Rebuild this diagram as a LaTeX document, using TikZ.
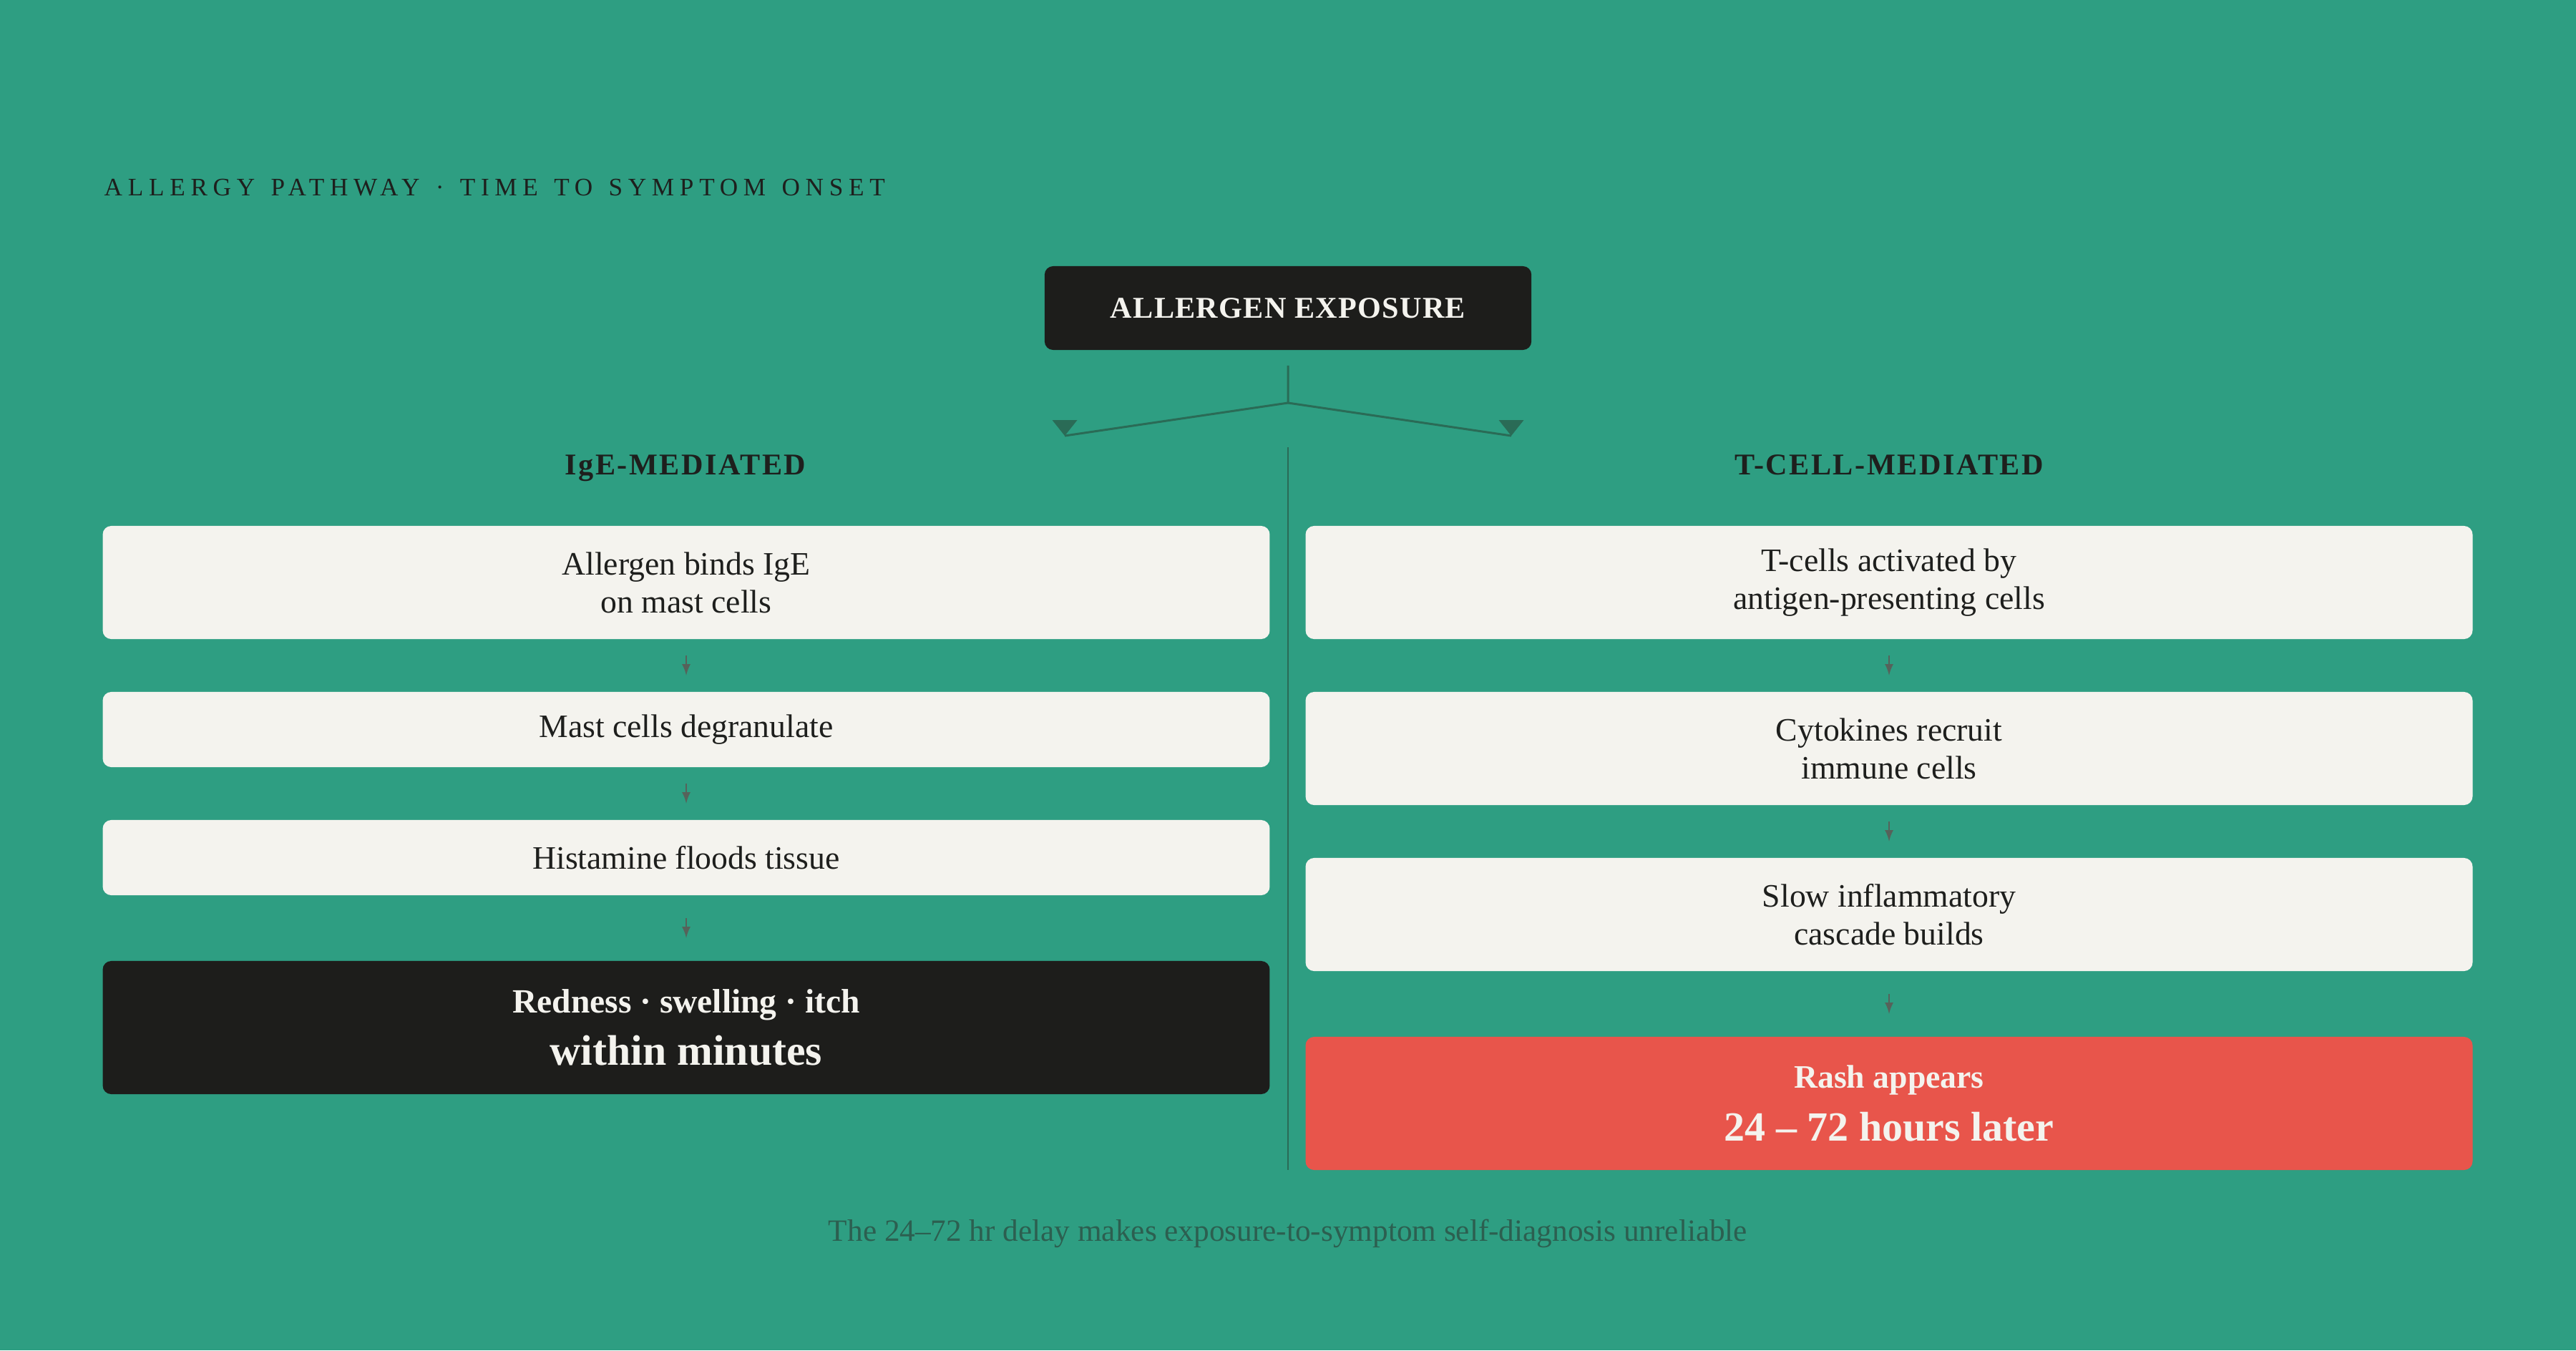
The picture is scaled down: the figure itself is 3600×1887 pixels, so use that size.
\documentclass[tikz,border=0pt]{standalone}
\usepackage{fontspec}
\setmainfont{Liberation Serif}
\newfontfamily\trackfont[LetterSpace=22,WordSpace=1.35]{Liberation Serif}
\newfontfamily\headfont[LetterSpace=6]{Liberation Serif}
\newfontfamily\boxfont[LetterSpace=3]{Liberation Serif}
\definecolor{bg}{HTML}{2E9E82}
\definecolor{paper}{HTML}{F4F3EE}
\definecolor{ink}{HTML}{1E1F1D}
\definecolor{coal}{HTML}{1D1D1B}
\definecolor{rash}{HTML}{E8554B}
\definecolor{pine}{HTML}{2A6B56}
\definecolor{ash}{HTML}{56625A}
\definecolor{note}{HTML}{2C5F50}
\begin{document}
\begin{tikzpicture}[x=0.01cm,y=-0.01cm]
            \tikzstyle{every node}=[inner sep=0pt]
            \tikzstyle{card}=[fill=paper,text=ink,rounded corners=3.4pt,minimum width=16.3cm,align=center,font=\fontsize{13}{15}\selectfont]
            \tikzstyle{bigcard}=[card,minimum height=1.86cm,text=paper,font=\bfseries]
            \tikzstyle{colhead}=[anchor=base,text=ink,font=\headfont\bfseries\fontsize{12}{14}\selectfont]
            \tikzstyle{branch}=[pine,line width=0.85pt]
            \tikzstyle{flow}=[ash,line width=0.55pt,-latex]
            \fill[bg] (0,0) rectangle (3600,1887);
            \useasboundingbox (0,0) rectangle (3600,1887);
            \draw (145,262) node[anchor=west,text=ink] (title) {\trackfont\fontsize{10}{12}\selectfont ALLERGY PATHWAY · TIME TO SYMPTOM ONSET};
            \draw (1800,430.5) node[fill=coal,text=paper,rounded corners=3.4pt,minimum width=6.8cm,minimum height=1.17cm,font=\boxfont\bfseries\fontsize{12}{14}\selectfont] (exp) {ALLERGEN EXPOSURE};
            % fork towards the two pathways
            \coordinate (fork) at (1800,563);
            \coordinate (tipl) at (1488,609);
            \coordinate (tipr) at (2112,609);
            \draw[branch] ([yshift=-0.21cm]exp.south) -- (fork) -- (tipl);
            \draw[branch] (fork) -- (tipr);
            \fill[pine] (tipl) -- ++(-17.5,-22) -- ++(35,0) -- cycle;
            \fill[pine] (tipr) -- ++(-17.5,-22) -- ++(35,0) -- cycle;
            \coordinate (divtop) at (1800,625);
            \coordinate (divbot) at (1800,1635);
            \draw[pine,line width=0.55pt] (divtop) -- (divbot);
            \draw (958,663) node[colhead] (ige) {IgE-MEDIATED};
            \draw (2640,663) node[colhead] (tc) {T-CELL-MEDIATED};
            % IgE side
            \draw (959,814) node[card,minimum height=1.58cm] (l1) {Allergen binds IgE\\on mast cells};
            \draw (959,1019.5) node[card,minimum height=1.05cm] (l2) {Mast cells degranulate};
            \draw (959,1198.5) node[card,minimum height=1.05cm] (l3) {Histamine floods tissue};
            \draw (959,1436) node[bigcard,fill=coal] (l4) {{\fontsize{13.5}{16}\selectfont Redness · swelling · itch}\\[5pt]{\fontsize{17}{20}\selectfont within minutes}};
            % T-cell side
            \draw (2640,814) node[card,minimum height=1.58cm] (r1) {T-cells activated by\\antigen-presenting cells};
            \draw (2640,1046) node[card,minimum height=1.58cm] (r2) {Cytokines recruit\\immune cells};
            \draw (2640,1278) node[card,minimum height=1.58cm] (r3) {Slow inflammatory\\cascade builds};
            \draw (2640,1542) node[bigcard,fill=rash] (r4) {{\fontsize{13}{16}\selectfont Rash appears}\\[6pt]{\fontsize{16.5}{20}\selectfont 24 – 72 hours later}};
            \foreach \a/\b/\s in {l1/l2/0.225cm,l2/l3/0.225cm,l3/l4/0.315cm,r1/r2/0.225cm,r2/r3/0.225cm,r3/r4/0.315cm}
                \draw[flow,shorten <=\s,shorten >=\s] (\a) -- (\b);
            \draw (1800,1724) node[text=note,font=\fontsize{12.3}{14}\selectfont] (foot) {The 24–72 hr delay makes exposure-to-symptom self-diagnosis unreliable};
        \end{tikzpicture}
\end{document}
